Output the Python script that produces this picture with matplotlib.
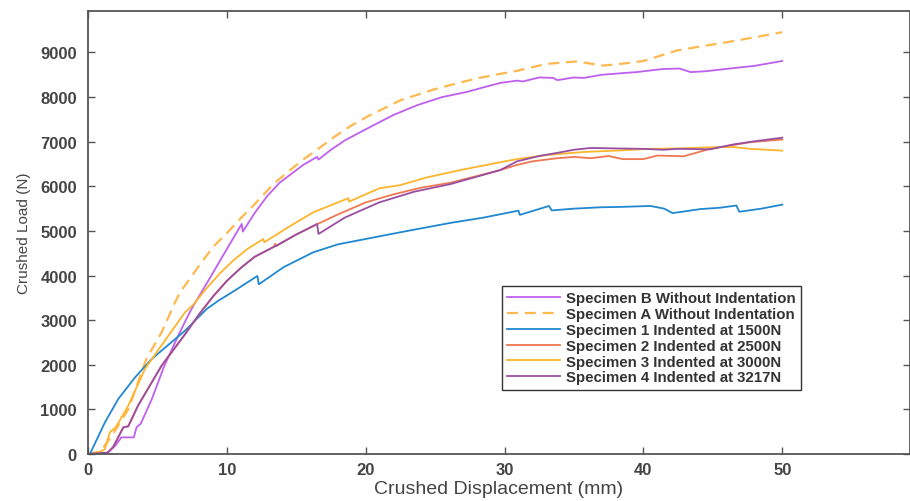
import matplotlib
matplotlib.use("Agg")
import matplotlib.pyplot as plt

plt.rcParams['font.family'] = ['Liberation Sans', 'DejaVu Sans']

# Specimen B without indentation
b_x = [0, 1.4, 2.0, 2.4, 3.3, 3.5, 3.8, 4.6, 5.5, 6.5, 7.2, 7.6, 8.6, 9.3, 10.2, 11.07, 11.15,
       12.0, 12.9, 13.8, 14.8, 15.5, 16.5, 16.6, 17.5, 18.5, 20.1, 22.0, 23.7, 25.5, 27.3, 28.5,
       29.7, 30.9, 31.3, 32.5, 33.5, 33.8, 35.0, 35.7, 37.0, 38.6, 39.5, 41.4, 42.6, 43.4, 44.5,
       46.5, 48.0, 50.0]
b_y = [0, 20, 200, 373, 373, 600, 680, 1233, 1980, 2653, 3100, 3330, 3850, 4222, 4700, 5157, 4985,
       5400, 5780, 6080, 6316, 6480, 6660, 6600, 6820, 7030, 7294, 7600, 7818, 8000, 8117, 8220,
       8318, 8370, 8350, 8440, 8430, 8380, 8440, 8430, 8500, 8540, 8560, 8630, 8640, 8560, 8580,
       8650, 8700, 8810]

# Specimen A without indentation (dashed)
a_x = [0, 0.9, 1.7, 2.9, 4.2, 5.3, 6.27, 6.63, 8.07, 9.03, 10.0, 10.95, 12.0, 13.35, 14.5, 15.5,
       16.5, 17.7, 18.9, 20.1, 22.5, 24.9, 26.1, 28.0, 29.68, 30.9, 33.0, 35.2, 36.0, 37.1, 38.8,
       40.0, 42.4, 44.0, 46.0, 48.0, 50.0]
a_y = [0, 60, 400, 1000, 2130, 2728, 3400, 3625, 4250, 4650, 4950, 5269, 5600, 6050, 6350, 6600,
       6820, 7100, 7350, 7560, 7930, 8170, 8270, 8420, 8520, 8590, 8744, 8800, 8760, 8706, 8760,
       8810, 9043, 9130, 9230, 9340, 9455]

# Specimen 1 indented at 1500N
s1_x = [0.14, 1.22, 2.18, 3.39, 4.59, 6.99, 8.55, 9.39, 10.5, 12.2, 12.3, 14.1, 16.23, 18.0, 20.0,
        21.0, 23.0, 26.1, 28.5, 31.0, 31.1, 33.2, 33.4, 35.0, 36.9, 38.5, 40.5, 41.5, 42.1, 43.0,
        44.1, 45.5, 46.7, 46.9, 48.5, 50.0]
s1_y = [0, 710, 1233, 1719, 2130, 2765, 3251, 3437, 3650, 3991, 3804, 4190, 4522, 4700, 4820,
        4880, 5000, 5180, 5300, 5455, 5360, 5560, 5460, 5500, 5530, 5540, 5560, 5500, 5400, 5440,
        5490, 5520, 5570, 5430, 5500, 5590]

# Specimen 2 indented at 2500N
s2_x = [0, 1.4, 1.8, 2.55, 2.9, 3.6, 5.3, 7.0, 8.0, 9.0, 10.0, 11.0, 12.0, 13.4, 13.47, 13.55,
        15.0, 16.7, 18.0, 20.0, 22.0, 24.0, 26.1, 28.0, 29.68, 30.9, 32.0, 33.8, 35.0, 36.2, 37.5,
        38.5, 40.0, 41.0, 42.9, 44.8, 47.7, 50.0]
s2_y = [0, 30, 150, 600, 620, 1083, 1980, 2690, 3130, 3530, 3880, 4170, 4420, 4650, 4710, 4660,
        4920, 5180, 5370, 5640, 5820, 5970, 6080, 6230, 6363, 6480, 6560, 6630, 6660, 6630, 6680,
        6610, 6610, 6690, 6674, 6840, 6989, 7050]

# Specimen 3 indented at 3000N
s3_x = [0, 0.5, 0.9, 1.2, 1.58, 2.0, 2.9, 4.1, 5.79, 6.99, 7.59, 8.5, 9.5, 10.5, 11.5, 12.63, 12.7,
        14.5, 16.23, 18.75, 18.8, 21.0, 22.48, 24.4, 26.8, 29.68, 30.9, 33.0, 35.7, 38.0, 40.5,
        42.5, 45.3, 46.5, 47.7, 50.0]
s3_y = [0, 0, 60, 100, 490, 600, 1083, 1906, 2653, 3177, 3350, 3700, 4050, 4350, 4600, 4820, 4746,
        5100, 5419, 5733, 5658, 5957, 6026, 6200, 6363, 6540, 6610, 6700, 6770, 6800, 6840,
        6850, 6880, 6880, 6840, 6800]

# Specimen 4 indented at 3217N
s4_x = [0, 1.4, 1.8, 2.55, 2.9, 3.6, 5.3, 7.0, 8.0, 9.0, 10.0, 11.0, 12.0, 13.5, 15.0, 16.5, 16.6,
        18.5, 21.0, 23.5, 26.1, 29.68, 30.9, 32.5, 33.8, 35.0, 36.2, 38.0, 40.0, 41.4, 42.5, 44.8,
        46.5, 48.0, 50.0]
s4_y = [0, 30, 150, 600, 620, 1083, 1980, 2690, 3130, 3530, 3880, 4170, 4420, 4660, 4920, 5157,
        4933, 5300, 5643, 5880, 6050, 6363, 6560, 6680, 6750, 6820, 6860, 6850, 6840, 6820, 6840,
        6830, 6940, 7010, 7090]

x_ticks = [0, 10, 20, 30, 40, 50]
y_ticks = [0, 1000, 2000, 3000, 4000, 5000, 6000, 7000, 8000, 9000]

fig = plt.figure(figsize=(9.1, 5.02), dpi=100)
ax = fig.add_axes([0.0967, 0.0936, 0.9033, 0.8825])

ax.plot(b_x, b_y, color='#bf5ff0', lw=1.3, label='Specimen B Without Indentation')
ax.plot(a_x, a_y, color='#ffb84d', lw=1.6, dashes=(5, 3), label='Specimen A Without Indentation')
ax.plot(s1_x, s1_y, color='#2088d0', lw=1.3, label='Specimen 1 Indented at 1500N')
ax.plot(s2_x, s2_y, color='#f07850', lw=1.3, label='Specimen 2 Indented at 2500N')
ax.plot(s3_x, s3_y, color='#fdb52c', lw=1.3, label='Specimen 3 Indented at 3000N')
ax.plot(s4_x, s4_y, color='#9a4ea3', lw=1.3, label='Specimen 4 Indented at 3217N')

ax.set_xlim(0, 59.2)
ax.set_ylim(0, 9930)
ax.set_xticks(x_ticks)
ax.set_yticks(y_ticks)

for s in ax.spines.values():
    s.set_color('#555555')
    s.set_linewidth(1.3)
ax.tick_params(direction='in', length=5, width=1, colors='#555555',
               top=True, right=True, labelsize=12, labelcolor='#444444')
ax.tick_params(axis='y', pad=8)
ax.tick_params(axis='x', pad=6)
for lbl in ax.get_xticklabels() + ax.get_yticklabels():
    lbl.set_fontweight('bold')

ax.set_xlabel('Crushed Displacement (mm)', fontsize=14, color='#444444', labelpad=2)
ax.set_ylabel('Crushed Load (N)', fontsize=11, color='#444444', labelpad=7)

leg = ax.legend(loc='upper left', bbox_to_anchor=(0.5036, 0.379), borderaxespad=0,
                handlelength=3.5, handletextpad=0.4, labelspacing=0.12,
                borderpad=0.35, fancybox=False, framealpha=1,
                prop={'weight': 'bold', 'size': 10.8})
leg.get_frame().set_edgecolor('#333333')
leg.get_frame().set_linewidth(1.0)
for t in leg.get_texts():
    t.set_color('#333333')

fig.savefig('out.png', dpi=100)
